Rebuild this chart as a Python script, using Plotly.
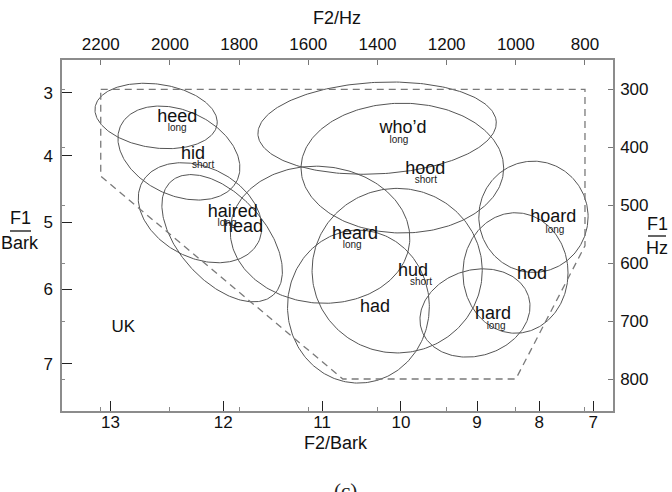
import numpy as np
import plotly.graph_objects as go

# ---------------- axis tick data ----------------
f2_hz_ticks = [2200, 2000, 1800, 1600, 1400, 1200, 1000, 800]
f1_hz_ticks = [300, 400, 500, 600, 700, 800]
f2_bark_labels = ["13", "12", "11", "10", "9", "8", "7"]
f2_bark_pos_hz = [2172, 1846, 1560, 1332, 1112, 932, 776]
f1_bark_labels = ["3", "4", "5", "6", "7"]
f1_bark_pos_hz = [306, 415, 529, 645, 774]

# ---------------- vowel ellipses (centre, radii in Hz, tilt in deg) ----------------
vowels = ["heed", "hid", "haired", "head", "who'd", "hood",
          "heard", "hud", "had", "hard", "hod", "hoard"]
ell_f2 = [2040, 1974, 1913, 1849, 1401, 1328, 1566, 1343, 1455, 1118, 1001, 949]
ell_f1 = [346, 410, 513, 557, 367, 436, 551, 613, 675, 686, 617, 520]
ell_rf2 = [178, 186, 189, 221, 345, 293, 260, 246, 205, 162, 152, 158]
ell_rf1 = [55, 73, 78, 74, 79, 112, 118, 142, 132, 74, 104, 96]
ell_tilt = [8, 25, 27, 48, -3, 0, 5, 0, 0, -17, 0, 0]

# ---------------- labels ----------------
lab_text = ["heed", "hid", "haired", "head", "who\u2019d", "hood",
            "heard", "hud", "had", "hard", "hod", "hoard"]
lab_f2 = [1979, 1933, 1818, 1789, 1326, 1262, 1465, 1297, 1407, 1066, 953, 892]
lab_f1 = [348, 413, 513, 538, 368, 439, 551, 615, 676, 689, 620, 522]

sub_text = ["long", "short", "long", "long", "short", "long", "short", "long", "long"]
sub_f2 = [1979, 1904, 1835, 1338, 1260, 1473, 1274, 1057, 887]
sub_f1 = [367, 432, 532, 389, 458, 570, 634, 710, 543]

region_label = "UK"
region_f2, region_f1 = 2135, 712

# outer dashed boundary
bound_f2 = [2200, 800, 800, 1000, 1500, 2200, 2200]
bound_f1 = [300, 300, 570, 800, 800, 450, 300]

# ---------------- layout geometry ----------------
W, H = 672, 492
ML, MR, MT, MB = 62, 59, 60, 81
PW, PH = W - ML - MR, H - MT - MB
x_range = [2312, 719]
y_range = [855.2, 249.4]
sx = PW / (x_range[0] - x_range[1])   # px per Hz (F2)
sy = PH / (y_range[0] - y_range[1])   # px per Hz (F1)

def px2paper(px, py):
    return (px - ML) / PW, (H - MB - py) / PH

fig = go.Figure()

t = np.linspace(0, 2 * np.pi, 241)
for c2, c1, r2, r1, th in zip(ell_f2, ell_f1, ell_rf2, ell_rf1, ell_tilt):
    a = r2 * sx
    b = r1 * sy
    th = np.deg2rad(th)
    X = a * np.cos(t) * np.cos(th) - b * np.sin(t) * np.sin(th)
    Y = a * np.cos(t) * np.sin(th) + b * np.sin(t) * np.cos(th)
    fig.add_trace(go.Scatter(x=c2 - X / sx, y=c1 + Y / sy, mode="lines",
                             line=dict(color="#555555", width=1),
                             hoverinfo="skip", showlegend=False))

fig.add_trace(go.Scatter(x=bound_f2, y=bound_f1, mode="lines",
                         line=dict(color="#7a7a7a", width=1.3, dash="7px,5px"),
                         hoverinfo="skip", showlegend=False))

fig.add_trace(go.Scatter(x=lab_f2, y=lab_f1, mode="text", text=lab_text,
                         textposition="middle center",
                         textfont=dict(family="Liberation Sans, Arial", size=18, color="#111"),
                         hoverinfo="skip", showlegend=False))
fig.add_trace(go.Scatter(x=sub_f2, y=sub_f1, mode="text", text=sub_text,
                         textposition="middle center",
                         textfont=dict(family="Liberation Sans, Arial", size=10, color="#222"),
                         hoverinfo="skip", showlegend=False))
fig.add_trace(go.Scatter(x=[region_f2], y=[region_f1], mode="text", text=[region_label],
                         textposition="middle center",
                         textfont=dict(family="Liberation Sans, Arial", size=17, color="#111"),
                         hoverinfo="skip", showlegend=False))

# dummy trace for secondary axes
fig.add_trace(go.Scatter(x=[None], y=[None], xaxis="x2", yaxis="y2",
                         showlegend=False, hoverinfo="skip"))

tickfont = dict(family="Liberation Sans, Arial", size=17, color="#111")
frame = dict(showline=True, linecolor="#8c8c8c", linewidth=1.5,
             showgrid=False, zeroline=False)

fig.update_layout(
    width=W, height=H,
    margin=dict(l=ML, r=MR, t=MT, b=MB, pad=0),
    paper_bgcolor="white", plot_bgcolor="white",
    xaxis=dict(range=x_range, tickmode="array", tickvals=f2_bark_pos_hz,
               ticktext=f2_bark_labels, ticks="inside", ticklen=10,
               tickcolor="#222", tickwidth=1, tickfont=tickfont,
               ticklabelstandoff=-5,
               minor=dict(tickmode="array", tickvals=f2_hz_ticks, ticks="inside",
                          ticklen=4, tickcolor="#888", tickwidth=1),
               **frame),
    xaxis2=dict(range=x_range, overlaying="x", side="top", tickmode="array",
                tickvals=f2_hz_ticks, ticktext=[str(v) for v in f2_hz_ticks],
                ticks="inside", ticklen=5, tickcolor="#777", tickwidth=1,
                tickfont=tickfont, ticklabelstandoff=1, **frame),
    yaxis=dict(range=y_range, tickmode="array", tickvals=f1_bark_pos_hz,
               ticktext=f1_bark_labels, ticks="inside", ticklen=10,
               tickcolor="#222", tickwidth=1, tickfont=tickfont,
               minor=dict(tickmode="array", tickvals=f1_hz_ticks, ticks="inside",
                          ticklen=3, tickcolor="#888", tickwidth=1),
               ticklabelstandoff=4,
               **frame),
    yaxis2=dict(range=y_range, overlaying="y", side="right", tickmode="array",
                tickvals=f1_hz_ticks, ticktext=[str(v) for v in f1_hz_ticks],
                ticks="inside", ticklen=5, tickcolor="#777", tickwidth=1,
                tickfont=tickfont, ticklabelstandoff=2, **frame),
)

ann_font = dict(family="Liberation Sans, Arial", size=18, color="#111")
annots = []
def add_text(txt, px, py, size=18, **kw):
    x, y = px2paper(px, py)
    f = dict(ann_font); f["size"] = size
    f.update(kw.pop("font", {}))
    annots.append(dict(text=txt, x=x, y=y, xref="paper", yref="paper",
                       showarrow=False, xanchor="center", yanchor="middle",
                       font=f, **kw))

add_text("F2/Hz", 337, 18)
add_text("F2/Bark", 336, 443)
add_text("F1", 20, 218)
add_text("Bark", 20, 243)
add_text("F1", 657, 224)
add_text("Hz", 657, 248)
add_text("(c)", 345, 491, size=21,
         font=dict(family="Liberation Serif, Times New Roman", color="#222"))
fig.update_layout(annotations=annots)

shapes = []
for (x0p, x1p, yp) in [(10, 31, 231), (648, 666, 236)]:
    xa, ya = px2paper(x0p, yp)
    xb, _ = px2paper(x1p, yp)
    shapes.append(dict(type="line", xref="paper", yref="paper",
                       x0=xa, x1=xb, y0=ya, y1=ya,
                       line=dict(color="#111", width=1.3)))
fig.update_layout(shapes=shapes)

fig.write_html("out.html")
